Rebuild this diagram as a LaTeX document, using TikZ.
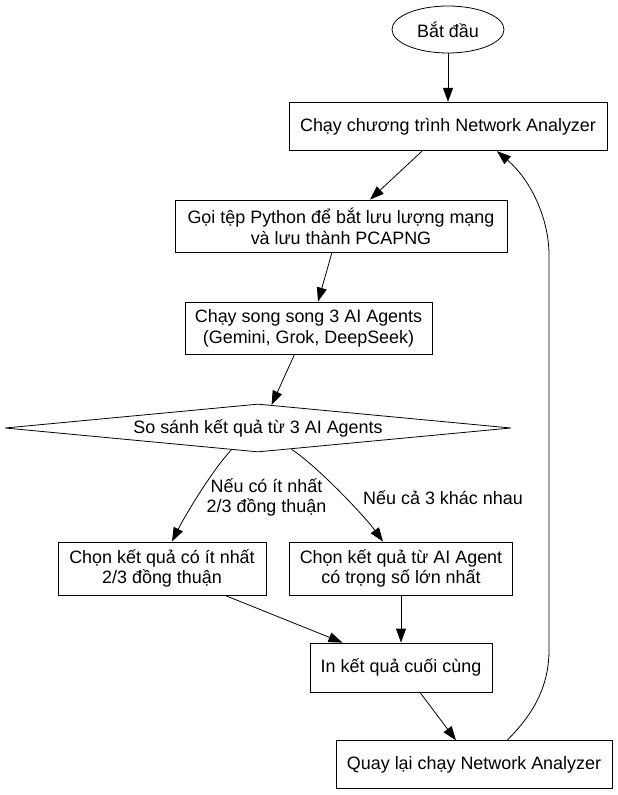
\documentclass[tikz,border=0pt]{standalone}
\usepackage{fontspec}
\setmainfont{Liberation Sans}
\usetikzlibrary{arrows.meta,shapes.geometric}
\begin{document}
\begin{tikzpicture}[x=1bp,y=-1bp,
  font=\fontsize{18}{21}\selectfont,
  box/.style={draw,line width=0.8bp,rectangle,inner sep=0pt,align=center},
  conn/.style={line width=0.8bp,-{Triangle[length=14bp,width=10bp]}},
  lbl/.style={align=center,inner sep=0pt}]
\useasboundingbox (0,0) rectangle (618,795);
\node[draw,ellipse,line width=0.8bp,minimum width=112bp,minimum height=47bp,inner sep=0pt] (start) at (448,29.5) {Bắt đầu};
\node[box,minimum width=318bp,minimum height=48.5bp] (b1) at (448,126.5) {Chạy chương trình Network Analyzer};
\node[box,minimum width=332bp,minimum height=52bp] (b2) at (341,226) {Gọi tệp Python để bắt lưu lượng mạng\\và lưu thành PCAPNG};
\node[box,minimum width=247bp,minimum height=52bp] (b3) at (308.5,328) {Chạy song song 3 AI Agents\\(Gemini, Grok, DeepSeek)};
\node[draw,diamond,aspect=10.5,line width=0.8bp,minimum width=506bp,minimum height=48bp,inner sep=0pt] (d) at (258,428) {So sánh kết quả từ 3 AI Agents};
\node[box,minimum width=208bp,minimum height=53bp] (b4) at (162,568.5) {Chọn kết quả có ít nhất\\2/3 đồng thuận};
\node[box,minimum width=223.5bp,minimum height=53bp] (b5) at (401,568.5) {Chọn kết quả từ AI Agent\\có trọng số lớn nhất};
\node[box,minimum width=182bp,minimum height=49bp] (b6) at (401,667.5) {In kết quả cuối cùng};
\node[box,minimum width=276bp,minimum height=47.5bp] (b7) at (474,764.5) {Quay lại chạy Network Analyzer};
\node[lbl] (l1) at (266.5,497.5) {Nếu có ít nhất\\2/3 đồng thuận};
\node[lbl] (l2) at (443,498) {Nếu cả 3 khác nhau};
\coordinate (r1) at (549,650);
\coordinate (r2) at (549,255);
\draw[conn] (start) -- (b1);
\draw[conn] ([xshift=-26bp]b1.south) -- ([xshift=29bp]b2.north);
\draw[conn] ([xshift=-9bp]b2.south) -- ([xshift=9.5bp]b3.north);
\draw[conn] ([xshift=-14bp]b3.south) -- ([xshift=13.6bp,yshift=-1.3bp]d.north);
\draw[conn] ([xshift=-26.5bp,yshift=2.6bp]d.south) .. controls +(-20,21) and +(12,-24) .. ([xshift=10bp]b4.north);
\draw[conn] ([xshift=33.5bp,yshift=3.1bp]d.south) .. controls +(26,17) and +(-18,-25) .. ([xshift=-18bp]b5.north);
\draw[conn] ([xshift=63bp]b4.south) -- ([xshift=-58.5bp]b6.north);
\draw[conn] (b5) -- (b6);
\draw[conn] ([xshift=19bp]b6.south) -- ([xshift=-18bp]b7.north);
\draw[conn] ([xshift=33bp]b7.north) .. controls +(23,-23) and +(0,40) .. (r1) -- (r2) .. controls +(0,-35) and +(35,30) .. ([xshift=49bp]b1.south);
\end{tikzpicture}
\end{document}
